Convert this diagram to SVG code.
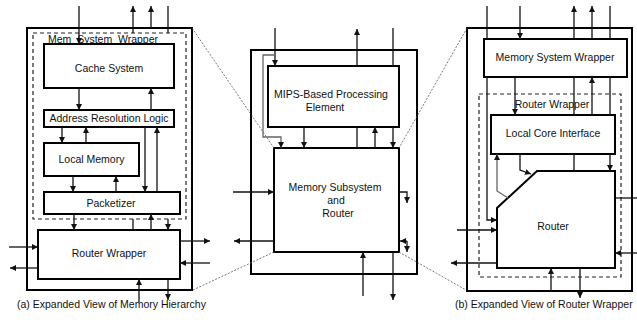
<svg xmlns="http://www.w3.org/2000/svg" width="637" height="324" viewBox="0 0 637 324">
<style>
.box{fill:#fff;stroke:#000;stroke-width:2}
.dash{fill:none;stroke:#222;stroke-width:1.2;stroke-dasharray:4 3}
.t{font-family:"Liberation Sans",Arial,sans-serif;font-size:10.5px;fill:#111;text-anchor:middle}
.cap{font-family:"Liberation Sans",Arial,sans-serif;font-size:10.5px;fill:#111}
.c{fill:none;stroke:#111;stroke-width:1.3}
.g{fill:none;stroke:#666;stroke-width:1.3}
.z{fill:none;stroke:#555;stroke-width:0.8;stroke-dasharray:2 1.5}
</style>
<defs>
<marker id="ah" viewBox="0 0 6 6" refX="6" refY="3" markerWidth="6" markerHeight="6" markerUnits="userSpaceOnUse" orient="auto">
<path d="M0,0 L6,3 L0,6 z" fill="#111"/>
</marker>
</defs>
<rect width="637" height="324" fill="#fff"/>

<!-- Panel (a) -->
<g id="a-outer"><rect class="box" x="27" y="28" width="165" height="262"/></g>
<g id="a-memwrap"><rect class="dash" x="33" y="33" width="153" height="186"/><text class="t" x="103" y="43">Mem_System_Wrapper</text></g>
<g id="a-cache"><rect class="box" x="44" y="44" width="130" height="44"/><text class="t" x="109" y="72">Cache System</text></g>
<g id="a-arl"><rect class="box" x="44" y="110" width="130" height="17"/><text class="t" x="109" y="122">Address Resolution Logic</text></g>
<g id="a-localmem"><rect class="box" x="44" y="143" width="95" height="33"/><text class="t" x="91.5" y="163">Local Memory</text></g>
<g id="a-packetizer"><rect class="box" x="44" y="192" width="136" height="22"/><text class="t" x="111" y="207">Packetizer</text></g>
<g id="a-router"><rect class="box" x="38" y="230" width="142" height="49"/><text class="t" x="109" y="257">Router Wrapper</text></g>
<text class="cap" x="17" y="308">(a) Expanded View of Memory Hierarchy</text>

<!-- Panel middle -->
<g id="m-outer"><rect class="box" x="251" y="50" width="166" height="224"/></g>
<g id="m-mips"><rect class="box" x="268" y="66" width="131" height="61"/><text class="t" x="331" y="98">MIPS-Based Processing</text><text class="t" x="325" y="111">Element</text></g>
<g id="m-msr"><rect class="box" x="274" y="148" width="125" height="104"/><text class="t" x="335" y="191">Memory Subsystem</text><text class="t" x="336" y="204">and</text><text class="t" x="338" y="217">Router</text></g>

<!-- Panel (b) -->
<g id="b-outer"><rect class="box" x="467" y="28" width="165" height="263"/></g>
<g id="b-msw"><rect class="box" x="484" y="39" width="143" height="38"/><text class="t" x="555" y="61">Memory System Wrapper</text></g>
<g id="b-routerwrap"><rect class="dash" x="479" y="94" width="142" height="183"/><text class="t" x="552" y="108">Router Wrapper</text></g>
<g id="b-lci"><rect class="box" x="491" y="115" width="124" height="39"/><text class="t" x="553" y="137">Local Core Interface</text></g>
<g id="b-router"><polygon class="box" points="537,171 615,171 615,268 497,268 497,208"/><text class="t" x="553" y="230">Router</text></g>
<text class="cap" x="455" y="308">(b) Expanded View of Router Wrapper</text>

<g id="connectors">
<!-- zoom lines -->
<path class="z" d="M192,28 L274,148"/>
<path class="z" d="M193,290 L274,252"/>
<path class="z" d="M467,28 L399,148"/>
<path class="z" d="M399,252 L466,290"/>
<!-- panel a -->
<path class="c" d="M79,6 V44" marker-end="url(#ah)"/>
<path class="c" d="M133,33 V6" marker-end="url(#ah)"/>
<path class="c" d="M151,28 V6" marker-end="url(#ah)"/>
<path class="c" d="M168,6 V33"/>
<path class="c" d="M79,88 V110" marker-end="url(#ah)"/>
<path class="c" d="M151,110 V88" marker-end="url(#ah)"/>
<path class="c" d="M62,127 V143" marker-end="url(#ah)"/>
<path class="c" d="M86,143 V127" marker-end="url(#ah)"/>
<path class="c" d="M145,127 V192" marker-end="url(#ah)"/>
<path class="c" d="M157,192 V127" marker-end="url(#ah)"/>
<path class="c" d="M73,176 V192" marker-end="url(#ah)"/>
<path class="c" d="M116,192 V176" marker-end="url(#ah)"/>
<path class="c" d="M74,214 V230" marker-end="url(#ah)"/>
<path class="c" d="M151,230 V214" marker-end="url(#ah)"/>
<path class="c" d="M133,219 V230"/>
<path class="c" d="M168,219 V230" marker-end="url(#ah)"/>
<path class="c" d="M9,247 H38" marker-end="url(#ah)"/>
<path class="c" d="M38,268 H10" marker-end="url(#ah)"/>
<path class="c" d="M180,241 H210" marker-end="url(#ah)"/>
<path class="c" d="M210,263 H180" marker-end="url(#ah)"/>
<path class="c" d="M139,302 V279" marker-end="url(#ah)"/>
<path class="c" d="M168,279 V300" marker-end="url(#ah)"/>
<!-- middle -->
<path class="c" d="M275,28 V66" marker-end="url(#ah)"/>
<path class="g" d="M275,55 H263 V137 H281 V148" marker-end="url(#ah)"/>
<path class="c" d="M357,66 V29" marker-end="url(#ah)"/>
<path class="c" d="M393,28 V66"/>
<path class="c" d="M393,127 V148" marker-end="url(#ah)"/>
<path class="c" d="M304,127 V148" marker-end="url(#ah)"/>
<path class="c" d="M357,127 V148"/>
<path class="c" d="M375,148 V127" marker-end="url(#ah)"/>
<path class="c" d="M233,192 H274" marker-end="url(#ah)"/>
<path class="c" d="M274,241 H234" marker-end="url(#ah)"/>
<path class="c" d="M399,192 H407 V203" marker-end="url(#ah)"/>
<path class="c" d="M407,241 H400" marker-end="url(#ah)"/>
<path class="c" d="M407,241 V252" marker-end="url(#ah)"/>
<path class="c" d="M363,296 V252" marker-end="url(#ah)"/>
<path class="c" d="M393,252 V300" marker-end="url(#ah)"/>
<!-- panel b -->
<path class="c" d="M487,6 V39"/>
<path class="c" d="M487,77 V220 H497" marker-end="url(#ah)"/>
<path class="c" d="M520,6 V39" marker-end="url(#ah)"/>
<path class="c" d="M574,39 V6" marker-end="url(#ah)"/>
<path class="c" d="M574,77 V115 M574,154 V171"/>
<path class="c" d="M592,39 V6" marker-end="url(#ah)"/>
<path class="c" d="M592,115 V77" marker-end="url(#ah)"/>
<path class="c" d="M610,6 V39 M610,77 V115"/>
<path class="c" d="M610,154 V171" marker-end="url(#ah)"/>
<path class="c" d="M515,77 V115" marker-end="url(#ah)"/>
<path class="c" d="M520,154 V170 L531,174" marker-end="url(#ah)"/>
<path class="g" d="M508,198 L497,191 V154" marker-end="url(#ah)"/>
<path class="c" d="M457,230 H497" marker-end="url(#ah)"/>
<path class="c" d="M497,263 H451" marker-end="url(#ah)"/>
<path class="c" d="M615,198 H637"/>
<path class="c" d="M637,253 H615" marker-end="url(#ah)"/>
<path class="c" d="M551,292 V268" marker-end="url(#ah)"/>
<path class="c" d="M580,268 V298" marker-end="url(#ah)"/>
</g>
</svg>
